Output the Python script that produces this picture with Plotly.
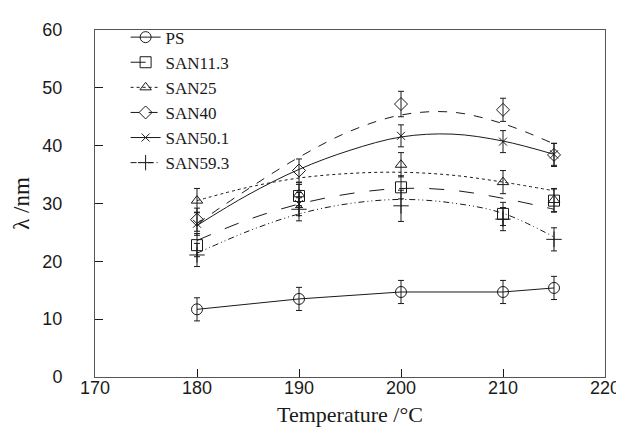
import plotly.graph_objects as go

# ---- data ----
temps = [180, 190, 200, 210, 215]
ps = [11.7, 13.5, 14.7, 14.7, 15.4]
san11 = [22.8, 31.3, 32.8, 28.2, 30.5]
san25 = [30.5, 31.6, 36.7, 33.7, 30.6]
san40 = [27.2, 35.7, 47.2, 46.2, 38.4]
san50 = [26.5, 29.9, 41.7, 40.7, 38.5]
san59 = [21.1, 29.0, 29.6, 27.3, 23.8]

err_ps = [2.0, 2.0, 2.0, 2.0, 2.0]
err_san11 = [2.0, 2.0, 2.0, 2.0, 2.0]
err_san25 = [2.1, 2.0, 2.1, 2.0, 2.0]
err_san40 = [2.0, 2.0, 2.2, 2.0, 2.0]
err_san50 = [2.0, 2.0, 1.9, 1.9, 1.9]
err_san59 = [2.0, 2.0, 2.7, 2.0, 2.0]

# fitted curves
fit_t = [180, 185, 190, 195, 200, 205, 210, 215]
fit_san11 = [23.6, 27.2, 29.9, 31.7, 32.6, 32.3, 30.9, 29.0]
fit_san25 = [30.5, 32.8, 34.4, 35.2, 35.4, 34.9, 33.7, 32.2]
fit_san40 = [26.5, 32.5, 38.0, 42.5, 45.3, 45.8, 43.8, 40.3]
fit_san50 = [26.2, 31.5, 35.9, 39.2, 41.5, 42.0, 40.8, 38.5]
fit_san59 = [21.4, 25.2, 28.2, 30.0, 30.7, 30.1, 28.3, 24.2]

names = ["PS", "SAN11.3", "SAN25", "SAN40", "SAN50.1", "SAN59.3"]
values = [ps, san11, san25, san40, san50, san59]
errors = [err_ps, err_san11, err_san25, err_san40, err_san50, err_san59]
fits = [None, fit_san11, fit_san25, fit_san40, fit_san50, fit_san59]
symbols = ["circle-open", "square-open", "triangle-up-open", "diamond-open",
           "x-thin-open", "cross-thin-open"]
msizes = [11, 11, 10, 10, 8, 11]
dashes = ["solid", "longdash", "dot", "dash", "solid", "6px,3px,1px,3px,1px,3px"]

INK = "#1a1a1a"
SERIF = "Liberation Serif"
SANS = "Liberation Sans"
fig = go.Figure()

for name, v, e, f, sym, ms, dash in zip(names, values, errors, fits, symbols, msizes, dashes):
    # legend entry
    fig.add_trace(go.Scatter(
        x=[None], y=[None], mode="lines+markers", name=name,
        line=dict(color=INK, width=1, dash=dash),
        marker=dict(symbol=sym, size=ms, color=INK, line=dict(color=INK, width=1)),
        showlegend=True))
    if f is None:
        fig.add_trace(go.Scatter(
            x=temps, y=v, mode="lines+markers", showlegend=False,
            line=dict(color=INK, width=1),
            marker=dict(symbol=sym, size=ms, color=INK, line=dict(color=INK, width=1)),
            error_y=dict(type="data", array=e, color=INK, thickness=1, width=3)))
    else:
        fig.add_trace(go.Scatter(
            x=fit_t, y=f, mode="lines", showlegend=False, line_shape="spline",
            line=dict(color=INK, width=1, dash=dash), hoverinfo="skip"))
        fig.add_trace(go.Scatter(
            x=temps, y=v, mode="markers", showlegend=False,
            marker=dict(symbol=sym, size=ms, color=INK, line=dict(color=INK, width=1)),
            error_y=dict(type="data", array=e, color=INK, thickness=1, width=3)))

fig.update_layout(
    width=624, height=432,
    margin=dict(l=84, r=16, t=17, b=63),
    paper_bgcolor="white", plot_bgcolor="white",
    showlegend=True,
    legend=dict(x=0.06, y=1.03, xanchor="left", yanchor="top",
                bgcolor="rgba(0,0,0,0)",
                font=dict(family=SERIF, size=17, color=INK)),
    xaxis=dict(
        range=[170, 220], tickvals=[170, 180, 190, 200, 210, 220],
        ticks="inside", ticklen=8, tickcolor=INK,
        showline=True, linecolor="#555", mirror=True,
        showgrid=False, zeroline=False,
        tickfont=dict(family=SANS, size=18, color=INK),
        ticklabelstandoff=-6,
        title=dict(text="Temperature /°C", font=dict(family=SERIF, size=22, color=INK),
                   standoff=10)),
    yaxis=dict(
        range=[0, 60], tickvals=[0, 10, 20, 30, 40, 50, 60],
        ticks="inside", ticklen=8, tickcolor=INK,
        showline=True, linecolor="#555", mirror=True,
        showgrid=False, zeroline=False,
        tickfont=dict(family=SANS, size=18, color=INK),
        ticklabelstandoff=28,
        title=dict(text="λ /nm", font=dict(family=SERIF, size=23, color=INK),
                   standoff=6)),
)

fig.write_html("out.html")
